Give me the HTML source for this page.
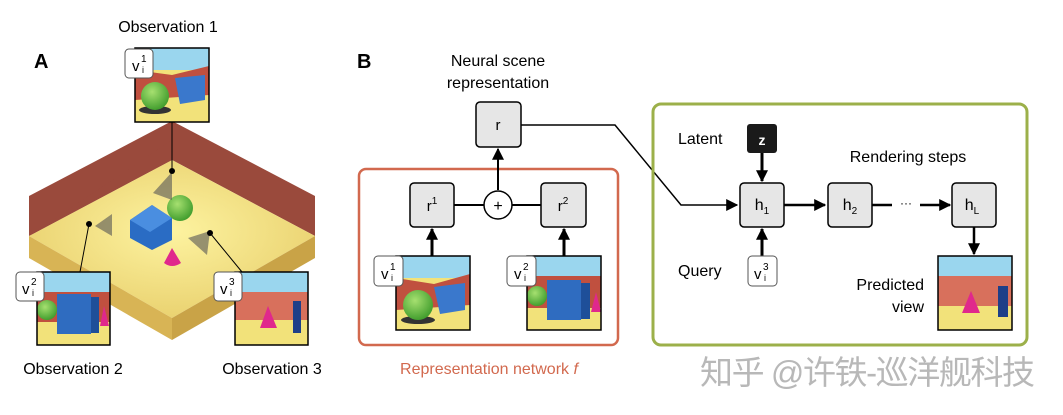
<!DOCTYPE html>
<html><head><meta charset="utf-8"><style>
html,body{margin:0;padding:0;background:#fff;width:1063px;height:415px;overflow:hidden}
svg text{font-family:"Liberation Sans","Noto Sans CJK SC",sans-serif}
</style></head><body>
<svg width="1063" height="415" viewBox="0 0 1063 415" xmlns="http://www.w3.org/2000/svg">
<defs>
<marker id="ah" viewBox="0 0 10 10" refX="9" refY="5" markerWidth="4" markerHeight="4" orient="auto"><path d="M0,0L10,5L0,10z" fill="#000"/></marker>
<marker id="ab" viewBox="0 0 10 10" refX="9" refY="5" markerWidth="12" markerHeight="12" markerUnits="userSpaceOnUse" orient="auto"><path d="M0,0L10,5L0,10z" fill="#000"/></marker>
<radialGradient id="fl" cx="0.5" cy="0.45" r="0.6"><stop offset="0" stop-color="#fdf3a0"/><stop offset="1" stop-color="#e8cf6c"/></radialGradient>
<radialGradient id="ball" cx="0.4" cy="0.35" r="0.7"><stop offset="0" stop-color="#a6e070"/><stop offset="1" stop-color="#3c9a2a"/></radialGradient>
</defs>
<!-- Panel A -->
<text x="34" y="68" font-size="20" font-weight="bold">A</text>
<text x="168" y="32" font-size="16" text-anchor="middle">Observation 1</text>
<polygon points="29,196 172,121 315,196 315,236 172,160 29,236" fill="#9a4a3c"/>
<polygon points="29,236 172,160 315,236 172,318" fill="url(#fl)"/>
<polygon points="29,236 172,318 172,340 29,258" fill="#d8b455"/>
<polygon points="315,236 172,318 172,340 315,258" fill="#c9a347"/>
<polygon points="29,236 172,140 172,160" fill="#9a4a3c"/>
<polygon points="130,220 152,205 172,218 172,240 152,250 130,238" fill="#2a6cc4"/>
<polygon points="130,220 152,205 172,218 150,232" fill="#4a8ee0"/>
<circle cx="180" cy="208" r="13" fill="url(#ball)"/>
<path d="M164,263 L172,248 L181,263 Q172,269 164,263z" fill="#e0288c"/>
<polygon points="153,193 172,172 172,200" fill="#555" opacity="0.6"/>
<polygon points="95,226 112,214 112,236" fill="#555" opacity="0.6"/>
<polygon points="188,238 210,231 207,255" fill="#555" opacity="0.6"/>
<line x1="172" y1="122" x2="172" y2="171" stroke="#000"/>
<circle cx="172" cy="171" r="3"/>
<line x1="89" y1="224" x2="80" y2="272" stroke="#000"/>
<circle cx="89" cy="224" r="3"/>
<line x1="210" y1="233" x2="242" y2="272" stroke="#000"/>
<circle cx="210" cy="233" r="3"/>
<rect x="135" y="48" width="74" height="74" fill="#f2e27a"/>
<rect x="135" y="48" width="74" height="22" fill="#9ad6ee"/>
<polygon points="135,70 172,75 209,66 209,95 135,100" fill="#c0503f"/>
<polygon points="175,78 205,75 205,100 180,104" fill="#3a78cc"/>
<ellipse cx="155" cy="110" rx="16" ry="4" fill="#333"/>
<circle cx="155" cy="96" r="14" fill="url(#ball)"/>
<rect x="135" y="48" width="74" height="74" fill="none" stroke="#000" stroke-width="1.5"/>
<rect x="125" y="49" width="28" height="29" rx="4" fill="#fff" stroke="#555"/>
<text x="132" y="71" font-size="15">v</text><text x="141" y="62" font-size="10">1</text><text x="142" y="73" font-size="9">i</text>
<rect x="37" y="272" width="73" height="73" fill="#f2e27a"/>
<rect x="37" y="272" width="73" height="20" fill="#9ad6ee"/>
<rect x="37" y="292" width="73" height="30" fill="#c0503f"/>
<rect x="57" y="294" width="34" height="40" fill="#2f6cc0"/>
<rect x="91" y="297" width="8" height="36" fill="#1e4f99"/>
<polygon points="100,326 104,306 109,326" fill="#e0288c"/>
<circle cx="47" cy="310" r="10" fill="url(#ball)"/>
<rect x="37" y="272" width="73" height="73" fill="none" stroke="#000" stroke-width="1.5"/>
<rect x="16" y="272" width="28" height="29" rx="4" fill="#fff" stroke="#555"/>
<text x="22" y="294" font-size="15">v</text><text x="31" y="285" font-size="10">2</text><text x="32" y="296" font-size="9">i</text>
<rect x="235" y="272" width="73" height="73" fill="#f2e27a"/>
<rect x="235" y="272" width="73" height="20" fill="#9ad6ee"/>
<rect x="235" y="292" width="73" height="28" fill="#d8705c"/>
<polygon points="260,328 268,306 277,328" fill="#e0288c"/>
<rect x="293" y="301" width="8" height="32" fill="#1e3f88"/>
<rect x="235" y="272" width="73" height="73" fill="none" stroke="#000" stroke-width="1.5"/>
<rect x="214" y="272" width="28" height="29" rx="4" fill="#fff" stroke="#555"/>
<text x="220" y="294" font-size="15">v</text><text x="229" y="285" font-size="10">3</text><text x="230" y="296" font-size="9">i</text>
<text x="73" y="374" font-size="16" text-anchor="middle">Observation 2</text>
<text x="272" y="374" font-size="16" text-anchor="middle">Observation 3</text>

<!-- Panel B -->
<text x="357" y="68" font-size="20" font-weight="bold">B</text>
<text x="498" y="66" font-size="16" text-anchor="middle">Neural scene</text>
<text x="498" y="88" font-size="16" text-anchor="middle">representation</text>
<rect x="476" y="102" width="45" height="45" rx="4" fill="#e6e6e6" stroke="#000" stroke-width="1.5"/>
<text x="498" y="130" font-size="15" text-anchor="middle">r</text>
<polyline points="521,125 615,125 681,205 737,205" fill="none" stroke="#000" stroke-width="1.5" marker-end="url(#ab)"/>
<rect x="359" y="169" width="259" height="176" rx="7" fill="none" stroke="#d2694e" stroke-width="2.5"/>
<line x1="454" y1="205" x2="541" y2="205" stroke="#000" stroke-width="2"/>
<line x1="498" y1="190" x2="498" y2="149" stroke="#000" stroke-width="2" marker-end="url(#ab)"/>
<circle cx="498" cy="205" r="14" fill="#fff" stroke="#000" stroke-width="1.5"/>
<text x="498" y="211" font-size="16" text-anchor="middle">+</text>
<rect x="410" y="183" width="44" height="44" rx="4" fill="#e6e6e6" stroke="#000" stroke-width="1.5"/>
<text x="432" y="211" font-size="15" text-anchor="middle">r<tspan font-size="10" dy="-7">1</tspan></text>
<rect x="541" y="183" width="45" height="44" rx="4" fill="#e6e6e6" stroke="#000" stroke-width="1.5"/>
<text x="563" y="211" font-size="15" text-anchor="middle">r<tspan font-size="10" dy="-7">2</tspan></text>
<line x1="432" y1="256" x2="432" y2="229" stroke="#000" stroke-width="3" marker-end="url(#ab)"/>
<line x1="564" y1="256" x2="564" y2="229" stroke="#000" stroke-width="3" marker-end="url(#ab)"/>
<rect x="396" y="256" width="74" height="74" fill="#f2e27a"/>
<rect x="396" y="256" width="74" height="22" fill="#9ad6ee"/>
<polygon points="396,278 434,284 470,274 470,305 396,310" fill="#c0503f"/>
<polygon points="434,287 465,283 465,310 440,314" fill="#3a78cc"/>
<ellipse cx="418" cy="320" rx="17" ry="4" fill="#333"/>
<circle cx="418" cy="305" r="15" fill="url(#ball)"/>
<rect x="396" y="256" width="74" height="74" fill="none" stroke="#000" stroke-width="1.5"/>
<rect x="374" y="256" width="29" height="30" rx="4" fill="#fff" stroke="#555"/>
<text x="381" y="279" font-size="15">v</text><text x="390" y="270" font-size="10">1</text><text x="391" y="281" font-size="9">i</text>
<rect x="527" y="256" width="74" height="74" fill="#f2e27a"/>
<rect x="527" y="256" width="74" height="20" fill="#9ad6ee"/>
<rect x="527" y="276" width="74" height="32" fill="#c0503f"/>
<rect x="547" y="280" width="34" height="40" fill="#2f6cc0"/>
<rect x="581" y="283" width="9" height="36" fill="#1e4f99"/>
<polygon points="591,312 596,292 601,312" fill="#e0288c"/>
<circle cx="537" cy="296" r="10" fill="url(#ball)"/>
<rect x="527" y="256" width="74" height="74" fill="none" stroke="#000" stroke-width="1.5"/>
<rect x="507" y="256" width="29" height="30" rx="4" fill="#fff" stroke="#555"/>
<text x="514" y="279" font-size="15">v</text><text x="523" y="270" font-size="10">2</text><text x="524" y="281" font-size="9">i</text>
<text x="489" y="374" font-size="16" fill="#d2694e" text-anchor="middle">Representation network <tspan font-style="italic">f</tspan></text>

<rect x="653" y="104" width="374" height="241" rx="8" fill="none" stroke="#9cb04a" stroke-width="3"/>
<text x="678" y="144" font-size="16">Latent</text>
<rect x="747" y="124" width="30" height="29" rx="3" fill="#1a1a1a"/>
<text x="762" y="145" font-size="14" font-weight="bold" fill="#fff" text-anchor="middle">z</text>
<line x1="762" y1="153" x2="762" y2="181" stroke="#000" stroke-width="3" marker-end="url(#ab)"/>
<text x="908" y="162" font-size="16" text-anchor="middle">Rendering steps</text>
<rect x="740" y="183" width="44" height="44" rx="4" fill="#e6e6e6" stroke="#000" stroke-width="1.5"/>
<text x="762" y="210" font-size="16" text-anchor="middle">h<tspan font-size="10" dy="4">1</tspan></text>
<line x1="784" y1="205" x2="825" y2="205" stroke="#000" stroke-width="2.5" marker-end="url(#ab)"/>
<rect x="828" y="183" width="44" height="44" rx="4" fill="#e6e6e6" stroke="#000" stroke-width="1.5"/>
<text x="850" y="210" font-size="16" text-anchor="middle">h<tspan font-size="10" dy="4">2</tspan></text>
<line x1="872" y1="205" x2="892" y2="205" stroke="#000" stroke-width="2.5"/>
<text x="906" y="207" font-size="12" text-anchor="middle">···</text>
<line x1="920" y1="205" x2="950" y2="205" stroke="#000" stroke-width="2.5" marker-end="url(#ab)"/>
<rect x="952" y="183" width="44" height="44" rx="4" fill="#e6e6e6" stroke="#000" stroke-width="1.5"/>
<text x="972" y="210" font-size="16" text-anchor="middle">h<tspan font-size="10" dy="4">L</tspan></text>
<line x1="974" y1="227" x2="974" y2="254" stroke="#000" stroke-width="2.5" marker-end="url(#ab)"/>
<line x1="762" y1="256" x2="762" y2="229" stroke="#000" stroke-width="3" marker-end="url(#ab)"/>
<text x="678" y="276" font-size="16">Query</text>
<rect x="748" y="256" width="29" height="30" rx="4" fill="#fff" stroke="#555"/>
<text x="754" y="279" font-size="15">v</text><text x="763" y="270" font-size="10">3</text><text x="764" y="281" font-size="9">i</text>
<text x="924" y="290" font-size="16" text-anchor="end">Predicted</text>
<text x="924" y="312" font-size="16" text-anchor="end">view</text>
<rect x="938" y="256" width="74" height="74" fill="#f2e27a"/>
<rect x="938" y="256" width="74" height="20" fill="#9ad6ee"/>
<rect x="938" y="276" width="74" height="30" fill="#d8705c"/>
<polygon points="962,313 971,291 980,313" fill="#e0288c"/>
<rect x="998" y="286" width="10" height="31" fill="#1e3f88"/>
<rect x="938" y="256" width="74" height="74" fill="none" stroke="#000" stroke-width="1.5"/>
<text x="700" y="384" font-size="33" fill="#b8b8b8" textLength="335">知乎 @许铁-巡洋舰科技</text>
</svg>
</body></html>
